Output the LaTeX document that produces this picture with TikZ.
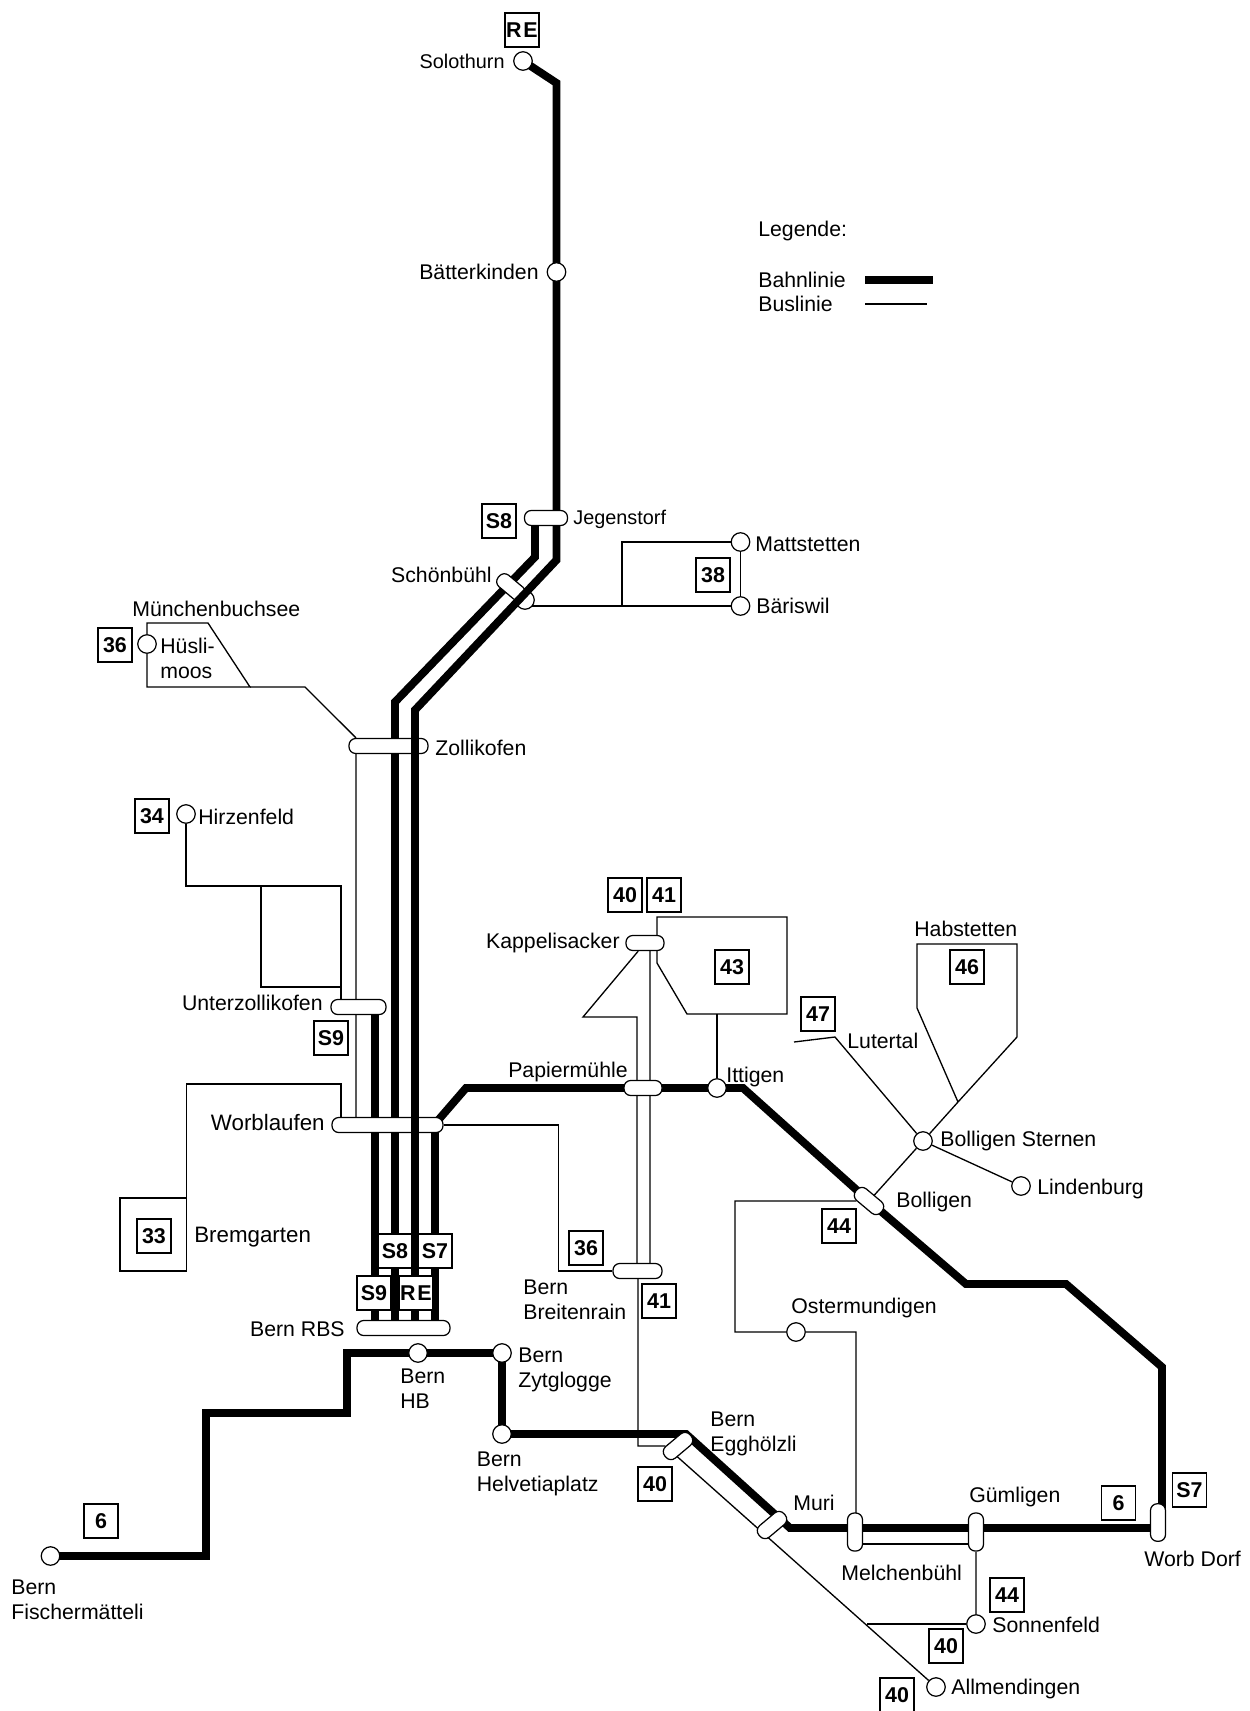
\documentclass[tikz,border=0pt]{standalone}
\usepackage{fontspec}
\setmainfont{Liberation Sans}
\usepackage{tikz}
\usetikzlibrary{backgrounds}
\tikzset{
    rail/.style={line width=4.5pt},
    bus/.style={line width=0.75pt},
    busgrey/.style={line width=0.75pt, black!65},
    stop/.style={circle, draw, fill=white, line width=0.7pt, minimum size=0.37cm, inner sep=0pt},
    pill/.style={rectangle, draw, fill=white, line width=0.7pt, rounded corners=3.8pt, minimum height=0.3cm, minimum width=#1cm, inner sep=0pt},
    linebox/.style={rectangle, draw, fill=white, line width=0.6pt, minimum size=0.68cm, inner sep=0pt, font=\fontsize{12.2}{14}\selectfont\bfseries},
    lab/.style={inner sep=0pt, align=left, font=\fontsize{12.1}{14.2}\selectfont},
    labsmall/.style={inner sep=0pt, font=\fontsize{11.3}{14}\selectfont},
    labbig/.style={inner sep=0pt, font=\fontsize{12.7}{15}\selectfont}
}
\begin{document}
\begin{tikzpicture}[x=0.02cm, y=-0.02cm]
    \useasboundingbox (0,0) rectangle (1249,1711);

    % stops
    \node[stop] (solothurn) at (523,61) {};
    \node[stop] (baetterkinden) at (556.5,272) {};
    \node[stop] (schoenbuehlbus) at (525,600) {};
    \node[stop] (mattstetten) at (740.5,542) {};
    \node[stop] (baeriswil) at (740.5,606) {};
    \node[stop] (hueslimoos) at (147,644) {};
    \node[stop] (hirzenfeld) at (186,814) {};
    \node[stop] (ittigen) at (717,1088) {};
    \node[stop] (sternen) at (923,1141) {};
    \node[stop] (lindenburg) at (1021,1186) {};
    \node[stop] (ostermundigen) at (796,1332) {};
    \node[stop] (bernhb) at (418,1353) {};
    \node[stop] (zytglogge) at (502,1353) {};
    \node[stop] (helvetiaplatz) at (502,1434) {};
    \node[stop] (fischermaetteli) at (50.5,1556) {};
    \node[stop] (sonnenfeld) at (976,1624) {};
    \node[stop] (allmendingen) at (936,1687) {};

    % interchanges
    \node[pill=0.86] (jegenstorf) at (546,518) {};
    \node[pill=0.64, rotate=-40] (schoenbuehl) at (511,587) {};
    \node[pill=1.58] (zollikofen) at (388.5,746) {};
    \node[pill=1.10] (unterzollikofen) at (358.5,1007) {};
    \node[pill=2.22] (worblaufen) at (387.5,1125) {};
    \node[pill=1.86] (bernrbs) at (403.5,1328) {};
    \node[pill=0.76] (kappelisacker) at (645,943) {};
    \node[pill=0.76] (papiermuehle) at (643,1088) {};
    \node[pill=0.98] (breitenrain) at (637.5,1271) {};
    \node[pill=0.66, rotate=-40] (bolligen) at (869,1201) {};
    \node[pill=0.66, rotate=40] (egghoelzli) at (678,1446) {};
    \node[pill=0.66, rotate=40] (muri) at (772,1525) {};
    \node[pill=0.76, rotate=90] (melchenbuehl) at (855,1532) {};
    \node[pill=0.76, rotate=90] (guemligen) at (976,1532) {};
    \node[pill=0.75, rotate=90] (worbdorf) at (1158,1522.5) {};

    % bus lines
    \begin{scope}[on background layer]
        \coordinate (allA) at (672,1452);
        \coordinate (sonnA) at (867,1624);
        \coordinate (mattA) at (622,606);
        \coordinate (mattB) at (622,542);
        \coordinate (hirzA) at (186,886);
        \coordinate (hirzB) at (261,886);
        \coordinate (hirzC) at (341,886);
        \coordinate (hirzD) at (261,987);
        \coordinate (hirzE) at (341,987);
        \coordinate (luesA) at (305,687);
        \coordinate (luesB) at (250,687);
        \coordinate (luesC) at (147,687);
        \coordinate (luesD) at (147,623);
        \coordinate (luesE) at (208,623);
        \coordinate (bremA) at (341,1084);
        \coordinate (bremB) at (186.5,1084);
        \coordinate (bremC) at (186.5,1271);
        \coordinate (bremD) at (120,1271);
        \coordinate (bremE) at (120,1198);
        \coordinate (bremF) at (186.5,1198);
        \coordinate (brA) at (558.5,1125);
        \coordinate (brB) at (558.5,1271);
        \coordinate (kapA) at (637,1017);
        \coordinate (kapB) at (583,1017);
        \coordinate (eggA) at (638,1446);
        \coordinate (lpA) at (657,917);
        \coordinate (lpB) at (787,917);
        \coordinate (lpC) at (787,1014);
        \coordinate (lpD) at (687,1014);
        \coordinate (lpE) at (657,963);
        \coordinate (lpF) at (717,1014);
        \coordinate (lutA) at (835,1037);
        \coordinate (lutB) at (794,1042);
        \coordinate (habA) at (958,1102);
        \coordinate (habB) at (1017,1037);
        \coordinate (habC) at (1017,944);
        \coordinate (habD) at (917,944);
        \coordinate (habE) at (917,1008);
        \coordinate (osA) at (856,1332);
        \coordinate (osB) at (735,1332);
        \coordinate (osC) at (735,1201);

        \draw[bus] (schoenbuehlbus |- baeriswil) -- (baeriswil);
        \draw[bus] (mattA) -- (mattB) -- (mattstetten) -- (baeriswil);
        \draw[bus] (hueslimoos) -- (luesD) -- (luesE) -- (luesB) -- (luesC) -- (hueslimoos);
        \draw[bus] (luesB) -- (luesA) -- (zollikofen.north -| 356,0);
        \draw[busgrey] (zollikofen -| 356,0) -- (worblaufen -| 356,0);
        \draw[bus] (hirzenfeld) -- (hirzA) -- (hirzC) -- (unterzollikofen -| hirzC);
        \draw[bus] (hirzB) -- (hirzD) -- (hirzE);
        \draw[bus] (worblaufen -| bremA) -- (bremA) -- (bremB) -- (bremC) -- (bremD) -- (bremE) -- (bremF);
        \draw[bus] (worblaufen) -- (brA) -- (brB) -- (breitenrain);
        \draw[bus] (breitenrain -| kapA) -- (kapA) -- (kapB) -- (kappelisacker);
        \draw[bus] (breitenrain -| eggA) -- (eggA) -- (egghoelzli);
        \draw[busgrey] (kappelisacker -| 650,0) -- (breitenrain -| 650,0);
        \draw[bus] (kappelisacker -| lpA) -- (lpA) -- (lpB) -- (lpC) -- (lpD) -- (lpE) -- (kappelisacker -| lpA);
        \draw[bus] (lpF) -- (ittigen);
        \draw[bus] (lutB) -- (lutA) -- (sternen);
        \draw[bus] (sternen) -- (habA) -- (habB) -- (habC) -- (habD) -- (habE) -- (habA);
        \draw[bus] (sternen) -- (lindenburg);
        \draw[bus] (sternen) -- (bolligen);
        \draw[bus] (melchenbuehl -| osA) -- (osA) -- (ostermundigen) -- (osB) -- (osC) -- (bolligen);
        \draw[bus] (melchenbuehl |- 0,1544) -- (guemligen |- 0,1544);
        \draw[busgrey] (guemligen) -- (sonnenfeld);
        \draw[bus] (allA) -- (allmendingen);
        \draw[bus] (sonnA) -- (sonnenfeld);
    \end{scope}

    % rail lines
    \begin{scope}[on background layer]
        \coordinate (reA) at (556.5,83);
        \coordinate (reB) at (556.5,560);
        \coordinate (reC) at (415,710);
        \coordinate (seA) at (535,557);
        \coordinate (seB) at (395,702);
        \coordinate (wbA) at (434,1125);
        \coordinate (wbB) at (466,1088);
        \coordinate (wbC) at (743,1088);
        \coordinate (wbD) at (966,1284);
        \coordinate (wbE) at (1066,1284);
        \coordinate (wbF) at (1162,1367);
        \coordinate (fiA) at (206,1556);
        \coordinate (fiB) at (206,1413);
        \coordinate (fiC) at (347,1413);
        \coordinate (fiD) at (347,1353);
        \coordinate (muA) at (686,1434);
        \coordinate (muB) at (790,1528);

        \draw[rail] (solothurn.center) -- (reA) -- (baetterkinden.center) -- (jegenstorf.center -| reB);
        \draw[rail] (jegenstorf.center -| seA) -- (seA) -- (seB) -- (bernrbs.center -| seB);
        \draw[rail] (unterzollikofen.center -| 375,0) -- (bernrbs.center -| 375,0);
        \draw[rail] (worblaufen.center -| 435,0) -- (bernrbs.center -| 435,0);
        \draw[rail] (wbA) -- (wbB) -- (papiermuehle.center) -- (ittigen.center) -- (wbC) -- (bolligen.center) -- (wbD) -- (wbE) -- (wbF) -- (worbdorf.center -| wbF);
        \draw[rail] (fischermaetteli.center) -- (fiA) -- (fiB) -- (fiC) -- (fiD) -- (bernhb.center) -- (zytglogge.center) -- (helvetiaplatz.center) -- (muA) -- (muB) -- (worbdorf.center |- muB);
    \end{scope}
    \draw[rail] (jegenstorf.south -| reB) -- (reB) -- (reC) -- (bernrbs.north -| reC);

    % line numbers
    \node[linebox] (boxreA) at (522,30) {R\kern1pt E};
    \node[linebox] (boxseA) at (499,521) {S8};
    \node[linebox] (boxthirtyeight) at (713,575) {38};
    \node[linebox] (boxthirtysixA) at (115,645) {36};
    \node[linebox] (boxthirtyfour) at (152,816) {34};
    \node[linebox] (boxsnA) at (331,1038) {S9};
    \node[linebox] (boxfortyA) at (625,895) {40};
    \node[linebox] (boxfortyoneA) at (664,895) {41};
    \node[linebox] (boxfortythree) at (732,967) {43};
    \node[linebox] (boxfortysix) at (967,967) {46};
    \node[linebox] (boxfortyseven) at (818,1014) {47};
    \node[linebox] (boxthirtythree) at (154,1236) {33};
    \node[linebox] (boxfortyfourA) at (839,1226) {44};
    \node[linebox] (boxthirtysixB) at (586,1248) {36};
    \node[linebox] (boxseB) at (395,1251) {S8};
    \node[linebox] (boxsvA) at (435,1251) {S7};
    \node[linebox] (boxsnB) at (374,1293) {S9};
    \node[linebox] (boxreB) at (416,1293) {R\kern1pt E};
    \node[linebox] (boxfortyoneB) at (659,1301) {41};
    \node[linebox] (boxfortyB) at (655,1484) {40};
    \node[linebox] (boxsixA) at (101,1521) {6};
    \node[linebox] (boxsixB) at (1118.5,1503) {6};
    \node[linebox] (boxsvB) at (1189.5,1490) {S7};
    \node[linebox] (boxfortyfourB) at (1007,1595) {44};
    \node[linebox] (boxfortyC) at (946,1646) {40};
    \node[linebox] (boxfortyD) at (897,1695) {40};

    % names
    \node[labsmall, anchor=base east] (tsolothurn) at (505,68) {Solothurn};
    \node[lab, anchor=base east] (tbaetterkinden) at (539,279) {Bätterkinden};
    \node[labsmall, anchor=base west] (tjegenstorf) at (573,524) {Jegenstorf};
    \node[lab, anchor=base east] (tschoenbuehl) at (492,582) {Schönbühl};
    \node[lab, anchor=base west] (tmattstetten) at (755,551) {Mattstetten};
    \node[lab, anchor=base west] (tbaeriswil) at (756,613) {Bäriswil};
    \node[lab, anchor=base west] (tmuenchen) at (132,616) {Münchenbuchsee};
    \node[lab, anchor=base west] (thuesli) at (160,678) {Hüsli-\\moos};
    \node[lab, anchor=base west] (tzollikofen) at (435,755) {Zollikofen};
    \node[lab, anchor=base west] (thirzenfeld) at (198,824) {Hirzenfeld};
    \node[lab, anchor=base east] (tunterzollikofen) at (323,1010) {Unterzollikofen};
    \node[labbig, anchor=base east] (tworblaufen) at (325,1130) {Worblaufen};
    \node[labbig, anchor=base west] (tbremgarten) at (194,1242) {Bremgarten};
    \node[lab, anchor=base east] (tkappelisacker) at (620,948) {Kappelisacker};
    \node[lab, anchor=base east] (tpapiermuehle) at (628,1077) {Papiermühle};
    \node[lab, anchor=base west] (tittigen) at (726,1082) {Ittigen};
    \node[lab, anchor=base west] (thabstetten) at (914,936) {Habstetten};
    \node[lab, anchor=base west] (tlutertal) at (847,1048) {Lutertal};
    \node[lab, anchor=base west] (tsternen) at (940,1146) {Bolligen Sternen};
    \node[lab, anchor=base west] (tlindenburg) at (1037,1194) {Lindenburg};
    \node[lab, anchor=base west] (tbolligen) at (896,1207) {Bolligen};
    \node[lab, anchor=base west] (tostermundigen) at (791,1313) {Ostermundigen};
    \node[lab, anchor=base west] (tbreitenrain) at (523,1319) {Bern\\Breitenrain};
    \node[lab, anchor=base east] (tbernrbs) at (345,1336) {Bern RBS};
    \node[lab, anchor=base west] (tbernhb) at (400,1408) {Bern\\HB};
    \node[lab, anchor=base west] (tzytglogge) at (518,1387) {Bern\\Zytglogge};
    \node[lab, anchor=base west] (thelvetiaplatz) at (476.5,1491) {Bern\\Helvetiaplatz};
    \node[lab, anchor=base west] (tfischermaetteli) at (11,1619) {Bern\\Fischermätteli};
    \node[lab, anchor=base west] (tegghoelzli) at (710,1451) {Bern\\Egghölzli};
    \node[lab, anchor=base west] (tmuri) at (793,1510) {Muri};
    \node[lab, anchor=base west] (tguemligen) at (969,1502) {Gümligen};
    \node[lab, anchor=base west] (tmelchenbuehl) at (841,1580) {Melchenbühl};
    \node[lab, anchor=base west] (tworbdorf) at (1144,1566) {Worb Dorf};
    \node[lab, anchor=base west] (tsonnenfeld) at (992,1632) {Sonnenfeld};
    \node[lab, anchor=base west] (tallmendingen) at (951,1694) {Allmendingen};

    % legend
    \node[lab, anchor=base west] (tlegende) at (758,236) {Legende:};
    \node[lab, anchor=base west] (tbahnlinie) at (758,287) {Bahnlinie};
    \node[lab, anchor=base west] (tbuslinie) at (758,311) {Buslinie};
    \coordinate (legA) at (865,280);
    \coordinate (legB) at (933,280);
    \coordinate (legC) at (865,304);
    \coordinate (legD) at (927,304);
    \draw[rail] (legA) -- (legB);
    \draw[bus] (legC) -- (legD);

\end{tikzpicture}
\end{document}
